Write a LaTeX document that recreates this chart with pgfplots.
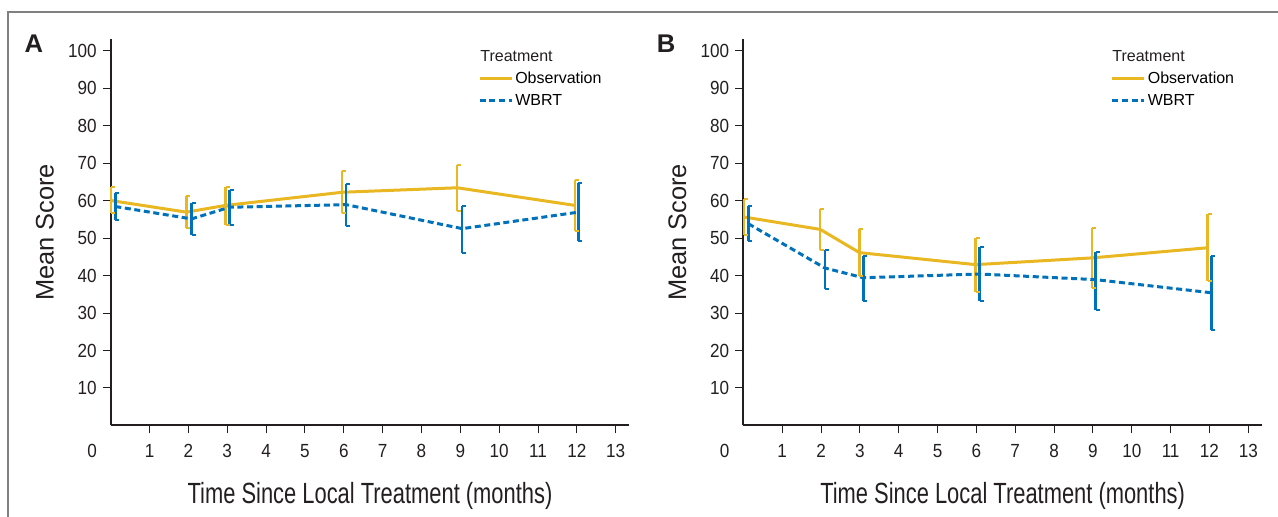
\documentclass[border=0pt]{standalone}
\usepackage{fontspec}
\setmainfont{Liberation Sans}
\newfontfamily\condA[FakeStretch=0.9]{Liberation Sans}
\newfontfamily\condB[FakeStretch=0.75]{Liberation Sans}
\usepackage{pgfplots}
\usepackage{pgfplotstable}
\pgfplotsset{compat=1.18}
\definecolor{obs}{RGB}{232,183,33}
\definecolor{wbrt}{RGB}{0,114,188}
\definecolor{axk}{RGB}{35,31,32}
\pgfdeclareplotmark{rcap}{\pgfpathmoveto{\pgfqpoint{0pt}{0pt}}\pgfpathlineto{\pgfqpoint{\pgfplotmarksize}{0pt}}\pgfusepathqstroke}

\pgfplotstableread{
x y ep em
0.00 60.0 3.7 3.4
1.95 56.9 4.3 4.2
2.96 58.7 5.0 5.1
5.96 62.2 5.6 5.6
8.92 63.4 6.2 6.2
11.95 58.7 6.9 6.9
}\AObs
\pgfplotstableread{
x y ep em
0.12 58.4 3.6 3.5
2.08 55.1 4.2 4.2
3.06 58.2 4.5 4.7
6.06 58.9 5.6 5.8
9.05 52.5 6.1 6.5
12.04 56.9 7.7 7.7
}\AWbrt
\pgfplotstableread{
x y ep em
0.02 55.6 4.9 4.9
1.98 52.3 5.5 5.4
2.99 46.1 6.2 6.3
5.98 42.9 7.1 7.3
8.98 44.7 7.9 8.0
11.95 47.4 9.1 8.9
}\BObs
\pgfplotstableread{
x y ep em
0.13 53.8 4.7 4.7
2.10 42.0 4.9 5.5
3.09 39.4 5.8 6.1
6.08 40.4 7.3 7.1
9.07 38.9 7.5 8.0
12.05 35.4 9.9 9.8
}\BWbrt

\pgfplotsset{
  panel/.style={
    width=259.3pt, height=193.1pt, scale only axis,
    xmin=0, xmax=13.35, ymin=0, ymax=103,
    axis lines=left,
    axis line style={-, line width=1pt, color=axk},
    clip=false,
    xtick={1,...,13}, ytick={10,20,...,100},
    tick align=outside,
    major tick length=4pt,
    tick style={line width=0.5pt, color=axk},
    /pgf/number format/assume math mode=true,
    tick label style={font=\condA\fontsize{9.5}{11}\selectfont, text=axk},
    xticklabel style={yshift=-2pt},
    yticklabel style={xshift=0.5pt},
    extra x ticks={0}, extra x tick labels={0},
    extra x tick style={major tick length=0pt, xticklabel style={xshift=-9.3pt, yshift=-4pt}},
    xlabel={Time Since Local Treatment (months)},
    xlabel style={font=\condB\fontsize{14.6}{16}\selectfont, text=axk, at={(axis description cs:0.5,-0.183)}, anchor=center},
    ylabel={Mean Score},
    ylabel style={font=\fontsize{12.7}{14}\selectfont, text=axk, at={(axis description cs:-0.127,0.5)}, anchor=center},
    legend style={at={(axis description cs:0.708,0.924)}, anchor=north west, draw=none, fill=none, inner sep=0pt,
      font=\fontsize{8}{9}\selectfont, nodes={inner sep=1pt, text height=6pt, text depth=1.5pt}, row sep=1.5pt,
      /tikz/every even column/.append style={column sep=1pt}},
    legend cell align=left,
    legend image code/.code={\draw[##1] (0pt,0pt) -- (16pt,0pt);},
  },
  ebars/.style={
    error bars/y dir=both, error bars/y explicit, error bars/error mark=none,
    error bars/error bar style={solid, line width=1.2pt},
  },
  obsline/.style={ebars, color=obs, line width=1.5pt, mark=none, solid},
  wbrtline/.style={ebars, color=wbrt, line width=1.5pt, mark=none, dash pattern=on 3pt off 1.8pt},
  capmarks/.style={only marks, mark=rcap, mark size=2pt, color=#1, mark options={solid, line width=1pt}, forget plot},
}
\newcommand\errcaps[2]{%
  \addplot[capmarks=#2] table[x=x, y expr=\thisrow{y}+\thisrow{ep}] {#1};
  \addplot[capmarks=#2] table[x=x, y expr=\thisrow{y}-\thisrow{em}] {#1};
}

\begin{document}
\begin{tikzpicture}
\useasboundingbox (0,0) rectangle (639pt,258.5pt);
\draw[color=black!50, line width=1pt] (4.2pt,0pt) -- (4.2pt,252.6pt) -- (639pt,252.6pt);

\begin{axis}[panel, at={(55.35pt,45.75pt)}, anchor=south west]
\addplot[obsline] table[x=x, y=y, y error plus=ep, y error minus=em] {\AObs};
\addlegendentry{Observation}
\addplot[wbrtline] table[x=x, y=y, y error plus=ep, y error minus=em] {\AWbrt};
\addlegendentry{WBRT}
\errcaps{\AObs}{obs}
\errcaps{\AWbrt}{wbrt}
\node[font=\bfseries\fontsize{12.8}{14}\selectfont, text=axk] at (axis description cs:-0.148,0.988) {A};
\node[font=\fontsize{8}{9}\selectfont, text=axk, anchor=west, inner sep=0pt] at (axis description cs:0.712,0.957) {Treatment};
\end{axis}

\begin{axis}[panel, at={(371.65pt,45.75pt)}, anchor=south west]
\addplot[obsline] table[x=x, y=y, y error plus=ep, y error minus=em] {\BObs};
\addlegendentry{Observation}
\addplot[wbrtline] table[x=x, y=y, y error plus=ep, y error minus=em] {\BWbrt};
\addlegendentry{WBRT}
\errcaps{\BObs}{obs}
\errcaps{\BWbrt}{wbrt}
\node[font=\bfseries\fontsize{12.8}{14}\selectfont, text=axk] at (axis description cs:-0.149,0.988) {B};
\node[font=\fontsize{8}{9}\selectfont, text=axk, anchor=west, inner sep=0pt] at (axis description cs:0.711,0.957) {Treatment};
\end{axis}
\end{tikzpicture}
\end{document}
